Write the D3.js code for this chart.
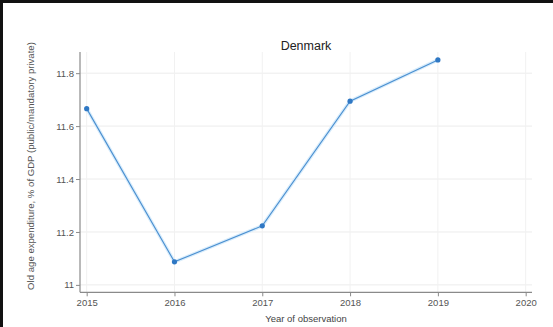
<!DOCTYPE html>
<html>
<head>
<meta charset="utf-8">
<script src="https://cdn.jsdelivr.net/npm/d3@7"></script>
<style>
  html, body { margin: 0; padding: 0; background: #fff; }
  svg { display: block; }
  text { font-family: Arial, "Liberation Sans", sans-serif; }
</style>
</head>
<body>
<svg id="chart" width="553" height="327"></svg>
<script>
// Old age expenditure, Denmark
const years = [2015, 2016, 2017, 2018, 2019];
const values = [11.666, 11.087, 11.223, 11.694, 11.85];
const xTicks = [2015, 2016, 2017, 2018, 2019, 2020];
const yTicks = [11, 11.2, 11.4, 11.6, 11.8];
const yTickLabels = ["11", "11.2", "11.4", "11.6", "11.8"];

const svg = d3.select("#chart");
const W = 553, H = 327;

// frame
svg.append("rect").attr("x", 0).attr("y", 0).attr("width", W).attr("height", H).attr("fill", "#fff");
svg.append("line").attr("x1", 0).attr("x2", W).attr("y1", 1.5).attr("y2", 1.5)
  .attr("stroke", "#111").attr("stroke-width", 3);
svg.append("line").attr("x1", 1.5).attr("x2", 1.5).attr("y1", 0).attr("y2", H)
  .attr("stroke", "#111").attr("stroke-width", 3);

const plot = { left: 80, right: 532, top: 52, bottom: 292.3 };

const x = d3.scaleLinear().domain([2014.924, 2020.072]).range([plot.left, plot.right]);
const y = d3.scaleLinear().domain([10.972, 11.88]).range([plot.bottom, plot.top]);

// grid
const grid = svg.append("g");
grid.selectAll(".gy").data(yTicks).join("line")
  .attr("x1", plot.left).attr("x2", plot.right)
  .attr("y1", d => y(d)).attr("y2", d => y(d))
  .attr("stroke", "#ececec").attr("stroke-width", 1);
grid.selectAll(".gx").data(xTicks).join("line")
  .attr("x1", d => x(d)).attr("x2", d => x(d))
  .attr("y1", plot.top).attr("y2", plot.bottom)
  .attr("stroke", "#f1f1f1").attr("stroke-width", 1);

// axes
const yAxis = d3.axisLeft(y).tickValues(yTicks).tickSize(4).tickPadding(2)
  .tickFormat((d, i) => yTickLabels[i]);
const gy = svg.append("g").attr("transform", `translate(${plot.left},0)`).call(yAxis);
gy.select(".domain").remove();
gy.append("line").attr("x1", 0).attr("x2", 0).attr("y1", plot.top).attr("y2", plot.bottom)
  .attr("stroke", "#8a8a8a").attr("stroke-width", 1.2);

const xAxis = d3.axisBottom(x).tickValues(xTicks).tickSize(4).tickPadding(3)
  .tickFormat(d3.format("d"));
const gx = svg.append("g").attr("transform", `translate(0,${plot.bottom})`).call(xAxis);
gx.select(".domain").remove();
gx.append("line").attr("x1", plot.left).attr("x2", plot.right).attr("y1", 0).attr("y2", 0)
  .attr("stroke", "#8a8a8a").attr("stroke-width", 1.2);

[gx, gy].forEach(g => {
  g.selectAll(".tick line").attr("stroke", "#8a8a8a");
  g.selectAll(".tick text").attr("fill", "#555").attr("font-size", 9.5);
});

// series
const line = d3.line().x((d, i) => x(years[i])).y(d => y(d));
svg.append("path").datum(values)
  .attr("d", line).attr("fill", "none")
  .attr("stroke", "#d8ecfb").attr("stroke-width", 3.5);
svg.append("path").datum(values)
  .attr("d", line).attr("fill", "none")
  .attr("stroke", "#4a8fd0").attr("stroke-width", 1.1);
svg.selectAll(".pt").data(values).join("circle")
  .attr("cx", (d, i) => x(years[i])).attr("cy", d => y(d))
  .attr("r", 2.6).attr("fill", "#2f78c4");

// titles
svg.append("text").attr("x", 306).attr("y", 50).attr("text-anchor", "middle")
  .attr("font-size", 12.5).attr("fill", "#222").text("Denmark");
svg.append("text").attr("x", 306).attr("y", 322).attr("text-anchor", "middle")
  .attr("font-size", 9.5).attr("fill", "#444").text("Year of observation");
svg.append("text")
  .attr("transform", `translate(34,${(40 + 292) / 2}) rotate(-90)`)
  .attr("text-anchor", "middle").attr("font-size", 9.6).attr("fill", "#555")
  .text("Old age expenditure, % of GDP (public/mandatory private)");
</script>
</body>
</html>
